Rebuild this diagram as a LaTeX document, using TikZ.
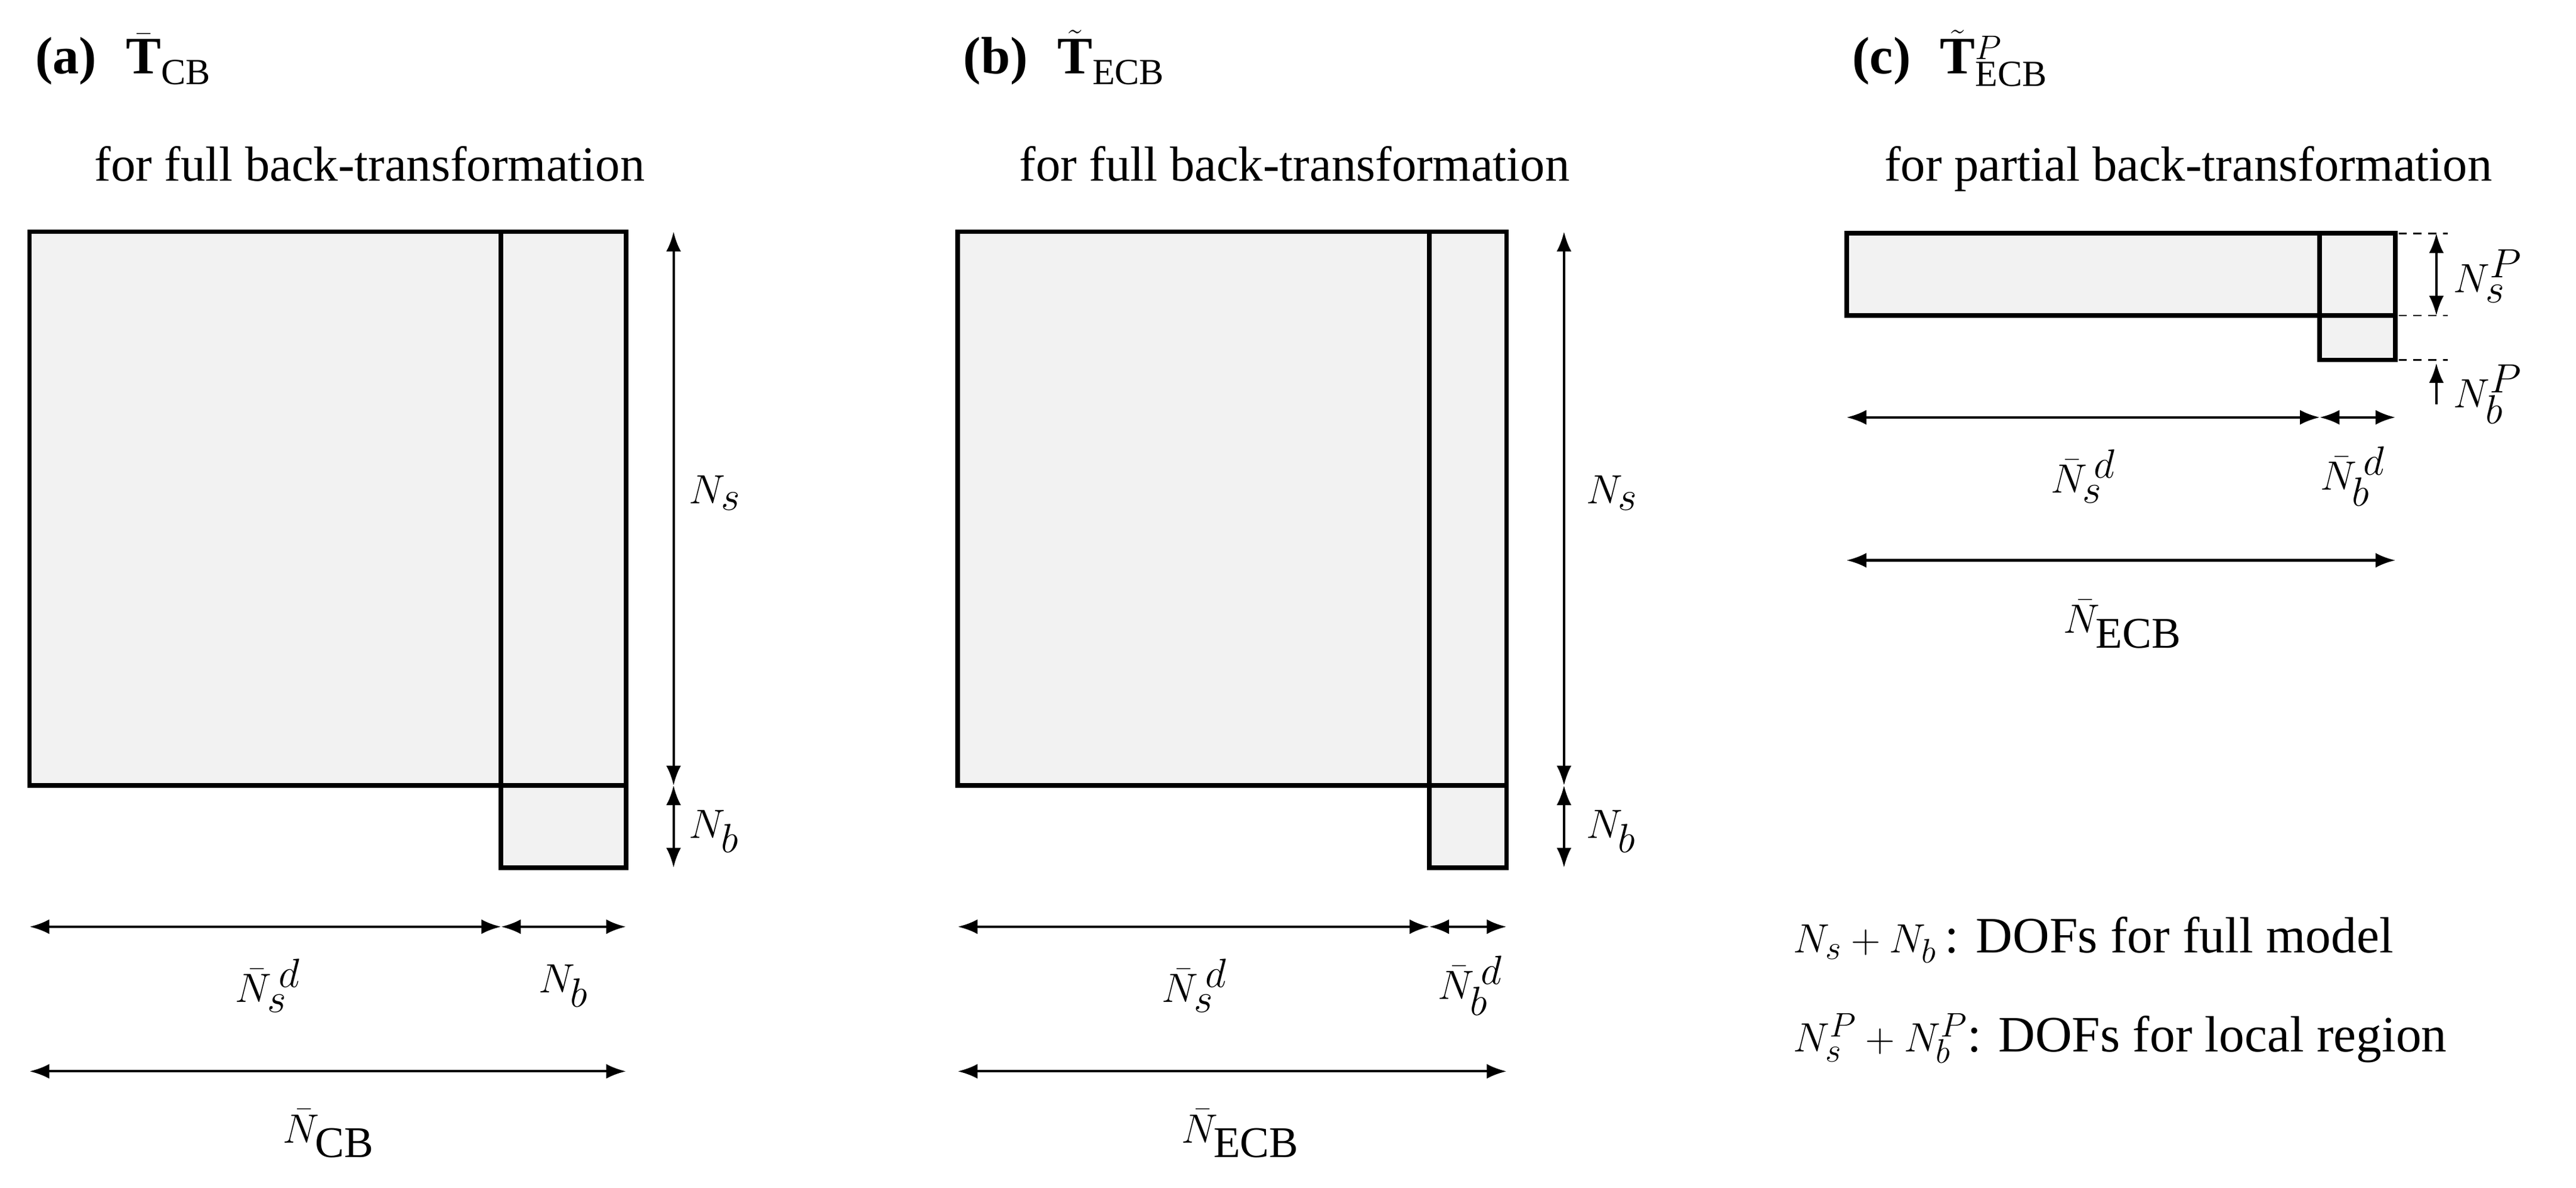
\documentclass[tikz,border=0pt]{standalone}
\usepackage{fontspec}
\setmainfont{Liberation Serif}
\usetikzlibrary{arrows.meta}
\definecolor{mfill}{HTML}{F2F2F2}
\tikzset{
 mat/.style={draw=black,line width=2.8pt,fill=mfill},
 dim/.style={line width=1.5pt,{Latex[length=12pt,width=9pt]}-{Latex[length=12pt,width=9pt]}},
 sdim/.style={line width=1.5pt,-{Latex[length=12pt,width=9pt]}},
 dsh/.style={line width=1pt,dash pattern=on 5pt off 4pt},
 lab/.style={font=\fontsize{38}{42}\selectfont},
 ttl/.style={font=\fontsize{30}{34}\selectfont,anchor=base west},
 hd/.style={font=\fontsize{32}{36}\selectfont,anchor=base west},
}
\begin{document}
\begin{tikzpicture}[x=1pt,y=-1pt]
\useasboundingbox (0,0) rectangle (1568,723);
% ---------- (a)
\node[hd] (ta) at (18,45) {\textbf{(a)}\hspace{18pt}$\bar{\mathbf{T}}_{\mathrm{CB}}$};
\node[ttl,anchor=base] (fa) at (225,110) {for full back-transformation};
\draw[mat] (18,141) rectangle (305,478);
\draw[mat] (305,141) rectangle (381,528);
\draw[mat] (305,478) -- (381,478);
\coordinate (a1) at (410,141); \coordinate (a2) at (410,478); \coordinate (a3) at (410,528);
\draw[dim] (a1) -- (a2); \draw[dim] (a2) -- (a3);
\node[lab,anchor=west] (aNs) at (416,300) {$N_s$};
\node[lab,anchor=west] (aNb) at (416,506) {$N_b$};
\coordinate (ah1) at (18,564); \coordinate (ah2) at (305,564); \coordinate (ah3) at (381,564);
\draw[dim] (ah1) -- (ah2); \draw[dim] (ah2) -- (ah3);
\node[lab] (aNsd) at (163,600) {$\bar{N}_s^{\,d}$};
\node[lab] (aNb2) at (343,600) {$N_b$};
\coordinate (aw1) at (18,652); \coordinate (aw2) at (381,652);
\draw[dim] (aw1) -- (aw2);
\node[lab] (aNcb) at (200,690) {$\bar{N}_{\mathrm{CB}}$};
% ---------- (b)
\node[hd] (tb) at (583,45) {\textbf{(b)}\hspace{18pt}$\tilde{\mathbf{T}}_{\mathrm{ECB}}$};
\node[ttl,anchor=base] (fb) at (788,110) {for full back-transformation};
\draw[mat] (583,141) rectangle (870,478);
\draw[mat] (870,141) rectangle (917,528);
\draw[mat] (870,478) -- (917,478);
\coordinate (b1) at (952,141); \coordinate (b2) at (952,478); \coordinate (b3) at (952,528);
\draw[dim] (b1) -- (b2); \draw[dim] (b2) -- (b3);
\node[lab,anchor=west] (bNs) at (962,300) {$N_s$};
\node[lab,anchor=west] (bNb) at (962,506) {$N_b$};
\coordinate (bh1) at (583,564); \coordinate (bh2) at (870,564); \coordinate (bh3) at (917,564);
\draw[dim] (bh1) -- (bh2); \draw[dim] (bh2) -- (bh3);
\node[lab] (bNsd) at (727,600) {$\bar{N}_s^{\,d}$};
\node[lab] (bNbd) at (895,600) {$\bar{N}_b^{\,d}$};
\coordinate (bw1) at (583,652); \coordinate (bw2) at (917,652);
\draw[dim] (bw1) -- (bw2);
\node[lab] (bNecb) at (755,690) {$\bar{N}_{\mathrm{ECB}}$};
% ---------- (c)
\node[hd] (tc) at (1124,45) {\textbf{(c)}\hspace{18pt}$\tilde{\mathbf{T}}^{P}_{\mathrm{ECB}}$};
\node[ttl,anchor=base] (fc) at (1332,110) {for partial back-transformation};
\draw[mat] (1124,142) rectangle (1412,192);
\draw[mat] (1412,142) rectangle (1458,219);
\draw[mat] (1412,192) -- (1458,192);
\draw[dsh] (1460,142) -- (1490,142);
\draw[dsh] (1460,192) -- (1490,192);
\draw[dsh] (1460,219) -- (1490,219);
\coordinate (c1) at (1483,142); \coordinate (c2) at (1483,192);
\coordinate (c3) at (1483,246); \coordinate (c4) at (1483,221);
\draw[dim] (c1) -- (c2); \draw[sdim] (c3) -- (c4);
\node[lab,anchor=west] (cNsp) at (1490,168) {$N_s^{P}$};
\node[lab,anchor=west] (cNbp) at (1490,240) {$N_b^{P}$};
\coordinate (ch1) at (1124,254); \coordinate (ch2) at (1412,254); \coordinate (ch3) at (1458,254);
\draw[dim] (ch1) -- (ch2); \draw[dim] (ch2) -- (ch3);
\node[lab] (cNsd) at (1268,290) {$\bar{N}_s^{\,d}$};
\node[lab] (cNbd) at (1432,290) {$\bar{N}_b^{\,d}$};
\coordinate (cw1) at (1124,341); \coordinate (cw2) at (1458,341);
\draw[dim] (cw1) -- (cw2);
\node[lab] (cNecb) at (1292,380) {$\bar{N}_{\mathrm{ECB}}$};
% ---------- legend
\node[ttl,font=\fontsize{31}{34}\selectfont] (l1) at (1088,580) {$N_s+N_b$\,: DOFs for full model};
\node[ttl,font=\fontsize{31}{34}\selectfont] (l2) at (1088,640) {$N_s^{P}+N_b^{P}$: DOFs for local region};
\end{tikzpicture}
\end{document}
